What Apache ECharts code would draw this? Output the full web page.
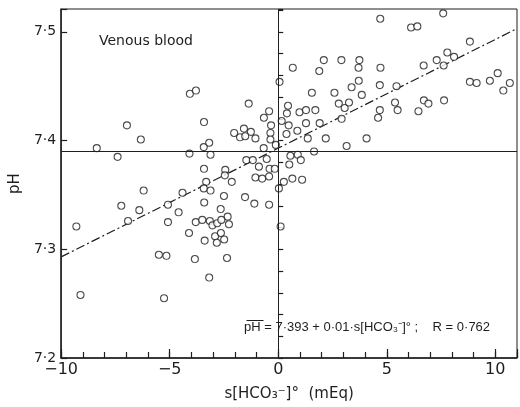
<!DOCTYPE html>
<html>
<head>
<meta charset="utf-8">
<script src="https://cdn.jsdelivr.net/npm/echarts@6/dist/echarts.min.js"></script>
<style>
  html, body { margin: 0; padding: 0; background: #fff; }
  #chart { width: 520px; height: 407px; }
</style>
</head>
<body>
<div id="chart"></div>
<script>
// s[HCO3-]° (mEq) for each sample
const hco3 = [
  -8.36, -6.97, -6.33, -7.40, -6.20, -7.23, -6.40, -5.08, -4.59, -9.30,
  -6.92, -5.08, -5.50, -5.15, -9.11, -5.26, -4.41,
  -4.07, -3.79, -1.36, -0.42, -0.66, -3.42, -0.33, 0.16, -2.03,
  -1.58, -1.26, -1.76, -1.52, -1.05, -0.36, -0.36, -3.43, -3.18, -4.09,
  -3.12, -0.67, -0.11, -1.47, -1.17, -0.53, -3.42, -2.44, -2.46, -0.89,
  -0.40, -0.16, -2.14, -1.05, -0.74, -0.42, -3.32, -3.43, -3.12, -2.50,
  -1.53, 0.03, -3.41, -1.10, -0.42, -2.65, -2.33, -3.80, -3.50, -3.15,
  -3.03, -2.81, -2.62, -2.27, -4.11, -3.39, -2.91, -2.64, -2.83, -2.49,
  -3.84, -2.36, -3.18, 0.11,
  0.06, 0.67, 2.10, 2.91, 3.74, 3.70, 1.89, 4.71, 3.71, 1.55,
  2.59, 3.38, 3.85, 4.68, 5.45, 5.38, 5.50, 4.68, 4.60, 2.79,
  3.06, 3.26, 2.92, 0.45, 0.40, 0.48, 0.98, 1.28, 1.71, 1.28,
  1.91, 0.88, 0.38, 1.36, 2.19, 4.07, 3.15, 1.65, 0.56, 0.90,
  1.04, 0.51, 0.65, 1.10, 0.26,
  4.70, 6.12, 6.41, 7.60, 8.83, 7.79, 8.10, 7.30, 7.62, 6.70,
  8.83, 9.14, 9.75, 10.11, 10.67, 10.37, 6.71, 6.92, 7.64, 6.46
];
// pH for each sample
const ph = [
  7.393, 7.414, 7.401, 7.385, 7.354, 7.340, 7.336, 7.341, 7.334, 7.321,
  7.326, 7.325, 7.295, 7.294, 7.258, 7.255, 7.352,
  7.443, 7.446, 7.434, 7.427, 7.421, 7.417, 7.414, 7.418, 7.407,
  7.411, 7.408, 7.403, 7.404, 7.402, 7.407, 7.401, 7.394, 7.398, 7.388,
  7.387, 7.393, 7.396, 7.382, 7.382, 7.383, 7.374, 7.373, 7.368, 7.376,
  7.374, 7.374, 7.362, 7.366, 7.365, 7.367, 7.362, 7.356, 7.354, 7.349,
  7.348, 7.356, 7.343, 7.342, 7.341, 7.337, 7.330, 7.325, 7.327, 7.326,
  7.322, 7.324, 7.327, 7.323, 7.315, 7.308, 7.312, 7.315, 7.306, 7.309,
  7.291, 7.292, 7.274, 7.321,
  7.454, 7.467, 7.474, 7.474, 7.474, 7.467, 7.464, 7.467, 7.455, 7.444,
  7.444, 7.449, 7.442, 7.451, 7.450, 7.435, 7.428, 7.428, 7.421, 7.434,
  7.430, 7.435, 7.420, 7.432, 7.425, 7.414, 7.426, 7.428, 7.428, 7.416,
  7.416, 7.409, 7.406, 7.402, 7.402, 7.402, 7.395, 7.390, 7.386, 7.387,
  7.382, 7.378, 7.365, 7.364, 7.362,
  7.512, 7.504, 7.505, 7.517, 7.491, 7.481, 7.477, 7.474, 7.469, 7.469,
  7.454, 7.453, 7.455, 7.462, 7.453, 7.446, 7.437, 7.434, 7.437, 7.427
];
// regression line endpoints: pH = 7.393 + 0.01 * s[HCO3-]°
const regX = [-10, 11];
const regY = [7.293, 7.503];
const meanPh = 7.393;
const xTicks = [-10, -5, 0, 5, 10];
const yTicks = [7.2, 7.3, 7.4, 7.5];

const ink = '#1e1e1e';
const font = 'DejaVu Sans';

const chart = echarts.init(document.getElementById('chart'));

const isTick = (list, v) => list.some(t => Math.abs(t - v) < 1e-6);

const option = {
  animation: false,
  backgroundColor: '#fff',
  grid: {
    left: 56, right: 2, top: 9, bottom: 45,
    show: true, borderColor: ink, borderWidth: 1
  },
  xAxis: [
    {
      type: 'value', min: -10, max: 11, interval: 5, position: 'bottom',
      name: 's[HCO\u2083\u207b]\u00b0  (mEq)',
      nameLocation: 'middle', nameGap: 29,
      nameTextStyle: { color: ink, fontFamily: font, fontSize: 15 },
      axisLine: { show: true, onZero: false, lineStyle: { color: ink, width: 1.5 } },
      axisTick: { show: true, inside: true, length: 9, lineStyle: { color: ink, width: 1.2 } },
      axisLabel: {
        color: ink, fontFamily: font, fontSize: 16, margin: 4,
        formatter: v => isTick(xTicks, v) ? (v < 0 ? '\u2212' + Math.abs(v) : String(v)) : ''
      },
      splitLine: { show: false }
    },
    {
      type: 'value', min: -10, max: 11, interval: 1, position: 'bottom',
      axisLine: { show: false },
      axisTick: { show: true, inside: true, length: 6, lineStyle: { color: ink, width: 1.2 } },
      axisLabel: { show: false },
      splitLine: { show: false }
    }
  ],
  yAxis: [
    {
      type: 'value', min: 7.2, max: 7.521, interval: 0.1,
      name: 'pH', nameLocation: 'middle', nameGap: 38, nameRotate: 90,
      nameTextStyle: { color: ink, fontFamily: font, fontSize: 15 },
      axisLine: { show: true, onZero: false, lineStyle: { color: ink, width: 1.5 } },
      axisTick: { show: true, inside: true, length: 6, lineStyle: { color: ink, width: 1.2 } },
      axisLabel: {
        color: ink, fontFamily: font, fontSize: 14, margin: 5,
        formatter: v => isTick(yTicks, v) ? v.toFixed(1).replace('.', '\u00b7') : ''
      },
      splitLine: { show: false }
    },
    {
      type: 'value', min: 7.2, max: 7.521, interval: 0.02, position: 'left',
      axisLine: { show: false },
      axisTick: { show: true, inside: true, length: 5, lineStyle: { color: ink, width: 1.2 } },
      axisLabel: { show: false },
      splitLine: { show: false }
    }
  ],
  series: [
    {
      type: 'scatter',
      xAxisIndex: 0, yAxisIndex: 0,
      data: hco3.map((x, i) => [x, ph[i]]),
      symbol: 'circle',
      symbolSize: 7,
      itemStyle: { color: '#fff', borderColor: ink, borderWidth: 1.1 },
      markLine: {
        silent: true,
        symbol: 'none',
        label: { show: false },
        lineStyle: { color: ink, width: 1, type: 'solid' },
        data: [{ yAxis: meanPh }, { xAxis: 0 }]
      },
      z: 3
    },
    {
      type: 'line',
      xAxisIndex: 0, yAxisIndex: 0,
      data: regX.map((x, i) => [x, regY[i]]),
      showSymbol: false,
      lineStyle: { color: ink, width: 1.2, type: [9, 3, 2, 3] },
      z: 2
    }
  ],
  graphic: [
    {
      type: 'text', left: 99, top: 34,
      style: { text: 'Venous blood', fill: ink, font: '14px "DejaVu Sans"' }
    },
    {
      type: 'text', left: 244, top: 321,
      style: {
        text: 'pH = 7\u00b7393 + 0\u00b701\u00b7s[HCO\u2083\u207b]\u00b0 ;    R = 0\u00b7762',
        fill: ink, font: '13px "Liberation Sans"'
      }
    },
    {
      type: 'line', left: 244, top: 318,
      shape: { x1: 0, y1: 0, x2: 17, y2: 0 },
      style: { stroke: ink, lineWidth: 1 }
    }
  ]
};

chart.setOption(option);
</script>
</body>
</html>
